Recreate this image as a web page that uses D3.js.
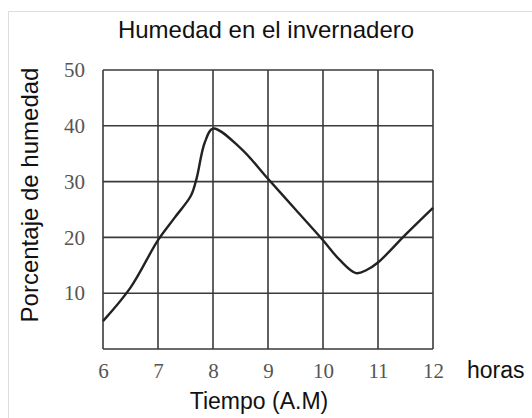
<!DOCTYPE html>
<html><head><meta charset="utf-8">
<script src="https://cdn.jsdelivr.net/npm/d3@7"></script>
<style>html,body{margin:0;padding:0;background:#fff;}svg{display:block;}</style>
</head><body>
<script>
const title = "Humedad en el invernadero";
const yLabel = "Porcentaje de humedad";
const xLabel = "Tiempo (A.M)";
const unitLabel = "horas";
const xTicks = [6, 7, 8, 9, 10, 11, 12];
const yTicks = [10, 20, 30, 40, 50];
const hours = [6, 6.5, 7, 7.3, 7.6, 7.7, 7.85, 8, 8.5, 9, 9.5, 10, 10.3, 10.6, 10.8, 11, 11.5, 12];
const humidity = [5, 11, 19.5, 23.5, 27.5, 30.5, 37, 39.5, 36, 30.5, 25, 19.5, 16, 13.6, 14.2, 15.5, 20.5, 25.3];

const W = 532, H = 418;
const svg = d3.select("body").append("svg").attr("width", W).attr("height", H);
svg.append("rect").attr("width", W).attr("height", H).attr("fill", "#fff");
svg.append("path").attr("d", "M8.5," + H + "V11.5H" + W).attr("fill", "none").attr("stroke", "#ddd").attr("stroke-width", 1);

const x = d3.scaleLinear().domain([6, 12]).range([103, 433]);
const y = d3.scaleLinear().domain([0, 50]).range([349, 70]);

const grid = svg.append("g").attr("stroke", "#3a3a3a").attr("stroke-width", 1.6).attr("fill", "none");
grid.selectAll("line.v").data(xTicks).join("line").attr("class", "v")
  .attr("x1", d => x(d)).attr("x2", d => x(d)).attr("y1", y(0)).attr("y2", y(50));
grid.selectAll("line.h").data([0].concat(yTicks)).join("line").attr("class", "h")
  .attr("x1", x(6)).attr("x2", x(12)).attr("y1", d => y(d)).attr("y2", d => y(d));

const yAxis = svg.append("g").attr("transform", `translate(${x(6)},0)`)
  .call(d3.axisLeft(y).tickValues(yTicks).tickFormat(d3.format("d")).tickSize(0).tickPadding(18));
const xAxis = svg.append("g").attr("transform", `translate(0,${y(0)})`)
  .call(d3.axisBottom(x).tickValues(xTicks).tickFormat(d3.format("d")).tickSize(0).tickPadding(14));
[yAxis, xAxis].forEach(a => {
  a.select(".domain").remove();
  a.selectAll("text").attr("font-family", "'Liberation Serif', 'DejaVu Serif', serif")
    .attr("font-size", 21).attr("fill", "#555");
});

const pts = hours.map((h, i) => [h, humidity[i]]);
svg.append("path").datum(pts)
  .attr("d", d3.line().x(d => x(d[0])).y(d => y(d[1])).curve(d3.curveCatmullRom.alpha(0.5)))
  .attr("fill", "none").attr("stroke", "#222").attr("stroke-width", 2.4);

const sans = "'Liberation Sans', Arial, sans-serif";
svg.append("text").attr("x", 266).attr("y", 38).attr("text-anchor", "middle")
  .attr("font-family", sans).attr("font-size", 24).attr("fill", "#111").text(title);
svg.append("text").attr("transform", "translate(38,195) rotate(-90)").attr("text-anchor", "middle")
  .attr("font-family", sans).attr("font-size", 24).attr("fill", "#111").text(yLabel);
svg.append("text").attr("x", 259).attr("y", 409).attr("text-anchor", "middle")
  .attr("font-family", sans).attr("font-size", 23).attr("fill", "#111").text(xLabel);
svg.append("text").attr("x", 467).attr("y", 378)
  .attr("font-family", sans).attr("font-size", 23).attr("fill", "#111").text(unitLabel);
</script>
</body></html>
